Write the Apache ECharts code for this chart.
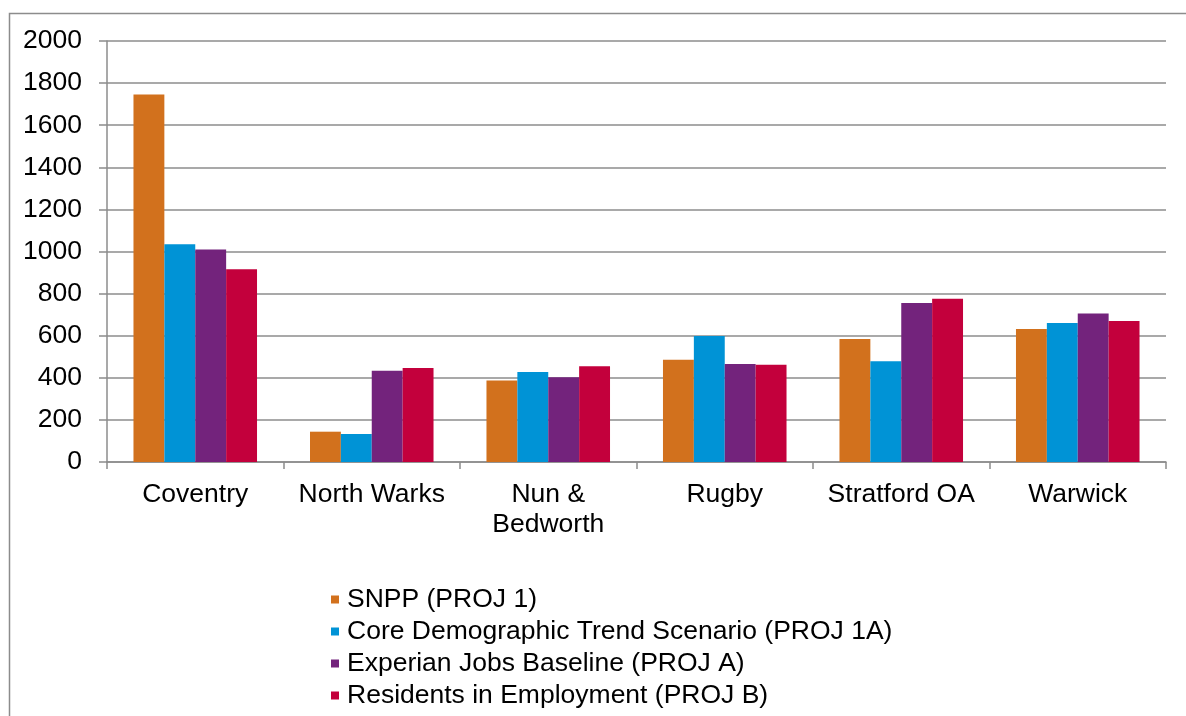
<!DOCTYPE html>
<html>
<head>
<meta charset="utf-8">
<script src="https://cdn.jsdelivr.net/npm/echarts@6/dist/echarts.min.js"></script>
<style>
    html, body {margin: 0; padding: 0; background: #fff;}
    #main {width: 1186px; height: 716px;}
</style>
</head>
<body>
<div id="main"></div>
<script>
// categories on the x axis
var districts = ['Coventry', 'North Warks', 'Nun &\nBedworth', 'Rugby', 'Stratford OA', 'Warwick'];

// series values
var snpp = [1746, 144, 387, 486, 584, 632];
var coreTrend = [1034, 133, 428, 598, 479, 660];
var experian = [1010, 433, 403, 465, 755, 705];
var residents = [916, 446, 455, 462, 776, 670];

var seriesNames = [
    'SNPP (PROJ 1)',
    'Core Demographic Trend Scenario (PROJ 1A)',
    'Experian Jobs Baseline (PROJ A)',
    'Residents in Employment (PROJ B)'
];

var chart = echarts.init(document.getElementById('main'));

var font = 'Liberation Sans, Arial, sans-serif';
var gridGrey = '#8c8c8c';
var fontSize = 26.5;

chart.setOption({
    animation: false,
    color: ['#D2711D', '#0093D6', '#73237C', '#C3003C'],
    textStyle: {fontFamily: font},
    // outer frame of the chart area
    graphic: [{
        type: 'rect',
        left: 7,
        top: 11,
        shape: {width: 1200, height: 800},
        style: {fill: 'none', stroke: '#8c8c8c', lineWidth: 1.5},
        silent: true
    }],
    grid: {
        left: 107,
        right: 20,
        top: 41,
        bottom: 254
    },
    legend: {
        orient: 'vertical',
        left: 326,
        top: 581,
        itemWidth: 8,
        itemHeight: 8,
        itemGap: 5,
        icon: 'rect',
        data: seriesNames,
        textStyle: {
            fontFamily: font,
            fontSize: fontSize,
            lineHeight: 27,
            color: '#000',
            padding: [0, 0, 0, 3]
        }
    },
    xAxis: {
        type: 'category',
        data: districts,
        axisLine: {lineStyle: {color: gridGrey, width: 1.5}},
        axisTick: {show: true, length: 7, lineStyle: {color: gridGrey, width: 1.5}},
        axisLabel: {
            color: '#000',
            fontFamily: font,
            fontSize: fontSize,
            lineHeight: 30,
            margin: 18,
            interval: 0
        }
    },
    yAxis: {
        type: 'value',
        min: 0,
        max: 2000,
        interval: 200,
        axisLine: {show: true, lineStyle: {color: gridGrey, width: 1.5}},
        axisTick: {show: true, length: 8, lineStyle: {color: gridGrey, width: 1.5}},
        splitLine: {lineStyle: {color: gridGrey, width: 1.5}},
        axisLabel: {
            color: '#000',
            fontFamily: font,
            fontSize: fontSize,
            margin: 25,
            formatter: function (v) {
                return String(v);
            }
        }
    },
    series: [
        {name: seriesNames[0], type: 'bar', data: snpp, barGap: '0%', barCategoryGap: '30%'},
        {name: seriesNames[1], type: 'bar', data: coreTrend, barGap: '0%', barCategoryGap: '30%'},
        {name: seriesNames[2], type: 'bar', data: experian, barGap: '0%', barCategoryGap: '30%'},
        {name: seriesNames[3], type: 'bar', data: residents, barGap: '0%', barCategoryGap: '30%'}
    ]
});
</script>
</body>
</html>
